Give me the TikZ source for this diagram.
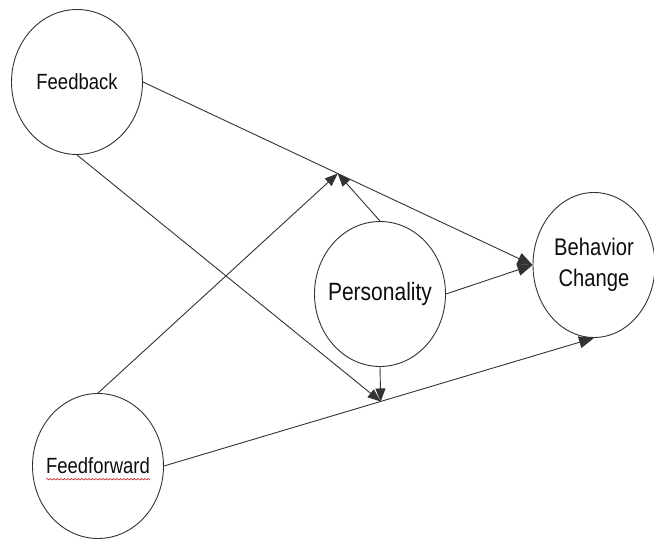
\documentclass[tikz,border=0pt]{standalone}
\usepackage{fontspec}
\setmainfont{Liberation Sans}[FakeStretch=0.84]
\usetikzlibrary{shapes.geometric,arrows.meta,decorations.pathmorphing}
\definecolor{ink}{HTML}{333333}
\tikzset{
  bubble/.style={draw=ink, line width=0.9pt, ellipse, minimum width=131pt,
                 minimum height=145pt, inner sep=0pt, fill=white},
  caption/.style={text=black!95, inner sep=0pt, align=center},
  link/.style={draw=ink, line width=0.9pt, -{Triangle[length=13pt,width=10pt]}},
  biglink/.style={link, -{Triangle[length=15pt,width=12pt]}},
  spell/.style={draw=red!75!black, line width=0.5pt, decorate,
                decoration={snake, amplitude=0.8pt, segment length=3.5pt}}
}
\begin{document}
\begin{tikzpicture}[x=1pt,y=-1pt]
\useasboundingbox (0,0) rectangle (654,540);

% the four factors (outline first, then its caption)
\node[bubble] (fb) at (77,82) {};
\node[bubble] (ff) at (98,466) {};
\node[bubble] (pe) at (380,294) {};
\node[bubble, minimum width=122pt] (bc) at (594,265) {};

\node[caption, font=\fontsize{22}{26}\selectfont] (fb-t) at (fb) {Feedback};
\node[caption, font=\fontsize{22}{26}\selectfont] (ff-t) at (ff) {Feedforward};
\node[caption, font=\fontsize{25}{30}\selectfont] (pe-t) at (pe) {Personality};
\node[caption, font=\fontsize{24}{31}\selectfont] (bc-t) at (bc) {Behavior\\Change};

% moderation points on the two direct paths
\path (fb.east) -- (bc.west) coordinate[pos=0.5] (j1);
\path (ff.east) -- (bc.south) coordinate[pos=0.504] (j2);

% direct effects
\draw[biglink] (fb.east) -- (bc.west);
\draw[biglink] (ff.east) -- (bc.south);
\draw[biglink] (pe.east) -- (bc.west);

% cross paths and moderation by personality
\draw[link] (ff.north) -- (j1);
\draw[link] (fb.south) -- (j2);
\draw[link] (pe.north) -- (j1);
\draw[link] (pe.south) -- (j2);

% spell-check squiggle under the word
\draw[spell] (ff-t.south west) ++(0,5) -- ++(104,0);
\end{tikzpicture}
\end{document}
